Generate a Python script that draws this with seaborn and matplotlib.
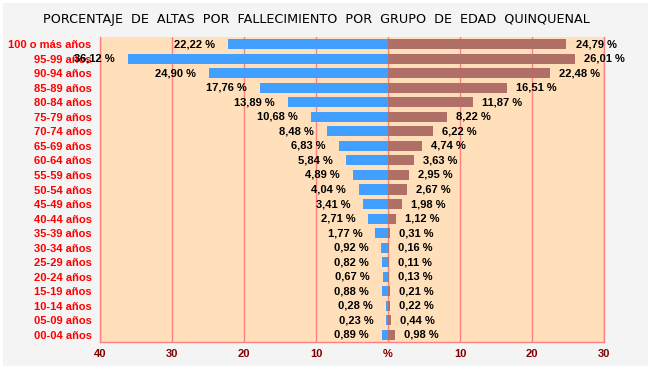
import matplotlib
matplotlib.use("Agg")
import numpy as np
import pandas as pd
import seaborn as sns
from matplotlib import pyplot as plt

age_groups = [
    "100 o más años", "95-99 años", "90-94 años", "85-89 años", "80-84 años",
    "75-79 años", "70-74 años", "65-69 años", "60-64 años", "55-59 años",
    "50-54 años", "45-49 años", "40-44 años", "35-39 años", "30-34 años",
    "25-29 años", "20-24 años", "15-19 años", "10-14 años", "05-09 años",
    "00-04 años",
]
left_values = [22.22, 36.12, 24.90, 17.76, 13.89, 10.68, 8.48, 6.83, 5.84, 4.89,
               4.04, 3.41, 2.71, 1.77, 0.92, 0.82, 0.67, 0.88, 0.28, 0.23, 0.89]
right_values = [24.79, 26.01, 22.48, 16.51, 11.87, 8.22, 6.22, 4.74, 3.63, 2.95,
                2.67, 1.98, 1.12, 0.31, 0.16, 0.11, 0.13, 0.21, 0.22, 0.44, 0.98]
x_ticks = [-40, -30, -20, -10, 0, 10, 20, 30]
x_tick_labels = ["40", "30", "20", "10", "%", "10", "20", "30"]

title = "PORCENTAJE  DE  ALTAS  POR  FALLECIMIENTO  POR  GRUPO  DE  EDAD  QUINQUENAL"

sns.set_theme(style="white")
plt.rcParams["font.family"] = ["Liberation Sans", "DejaVu Sans"]

df = pd.DataFrame({
    "grupo": age_groups,
    "izq": -np.array(left_values),
    "der": np.array(right_values),
})

fig = plt.figure(figsize=(6.51, 3.69), dpi=100)
fig.patch.set_facecolor("#F4F4F4")
fig.patch.set_edgecolor("white")
fig.patch.set_linewidth(3)
ax = fig.add_axes([100 / 651, 1 - 342 / 369, 504 / 651, 305 / 369])
ax.set_facecolor("#FFE0BA")

sns.barplot(data=df, x="izq", y="grupo", color="#409FFF", saturation=1,
            width=0.69, orient="h", ax=ax, zorder=3, linewidth=0)
sns.barplot(data=df, x="der", y="grupo", color="#B07068", saturation=1,
            width=0.69, orient="h", ax=ax, zorder=3, linewidth=0)

ax.set_xlim(-40, 30)
ax.set_ylim(len(age_groups) - 0.5, -0.5)
ax.set_xticks(x_ticks)
ax.set_xticklabels(x_tick_labels, color="#800000", fontweight="bold", fontsize=8)
ax.tick_params(axis="both", length=0)
ax.tick_params(axis="x", pad=5)
ax.tick_params(axis="y", pad=6)
for lbl in ax.get_yticklabels():
    lbl.set_color("#FF0000")
    lbl.set_fontweight("bold")
    lbl.set_fontsize(8)
ax.set_xlabel("")
ax.set_ylabel("")

ax.grid(axis="x", color="#FF8080", linewidth=1)
ax.set_axisbelow(True)
for side in ["left", "right", "bottom"]:
    ax.spines[side].set_color("#FF8080")
    ax.spines[side].set_linewidth(1)
ax.spines["top"].set_visible(False)

for i, (lv, rv) in enumerate(zip(left_values, right_values)):
    ax.annotate(f"{lv:.2f} %".replace(".", ","), xy=(-lv, i), xytext=(-9.4, 0),
                textcoords="offset points", ha="right", va="center",
                fontsize=8, fontweight="bold", color="black", zorder=5)
    ax.annotate(f"{rv:.2f} %".replace(".", ","), xy=(rv, i), xytext=(6.5, 0),
                textcoords="offset points", ha="left", va="center",
                fontsize=8, fontweight="bold", color="black", zorder=5)

fig.text(316 / 651, 1 - 20 / 369, title, ha="center", va="center",
         fontsize=9.2, color="black", family="DejaVu Sans")

fig.savefig("out.png", dpi=100, facecolor=fig.get_facecolor(),
            edgecolor=fig.get_edgecolor())
